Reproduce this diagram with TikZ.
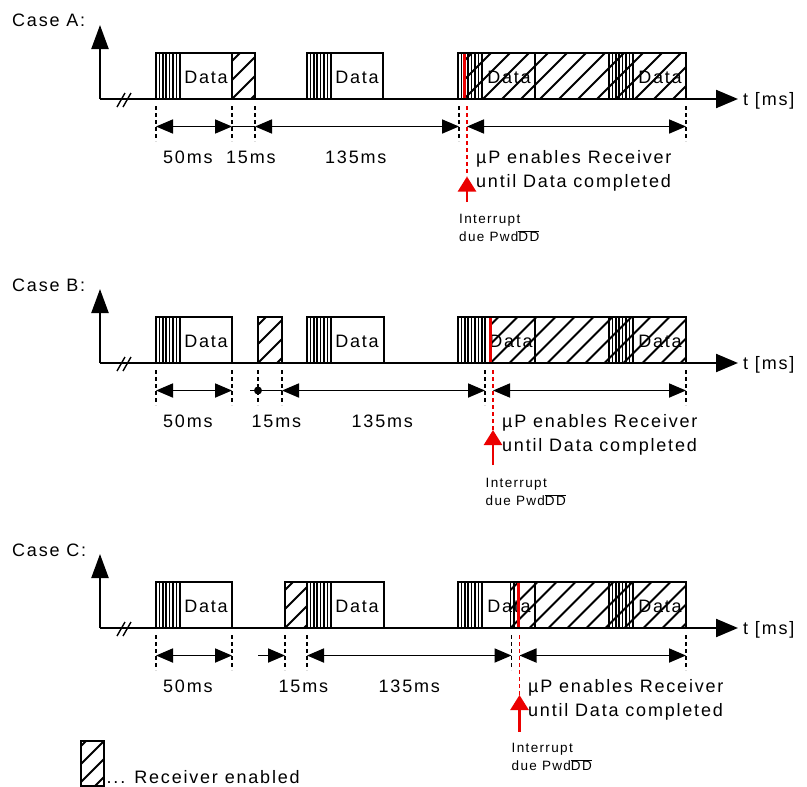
\documentclass[tikz,border=0pt]{standalone}
\usepackage{fontspec}
\setmainfont{Liberation Sans}[LetterSpace=10]
\usetikzlibrary{arrows.meta}
\definecolor{intred}{RGB}{235,0,0}
\tikzset{
  lbl/.style={inner sep=0pt, font=\fontsize{18}{20}\selectfont, anchor=base west},
  small/.style={inner sep=0pt, font=\fontsize{13.5}{16}\selectfont, anchor=base west},
  boxline/.style={line width=2pt},
  stripe/.style={line width=1.15pt},
  hatchline/.style={line width=1.9pt},
  axis/.style={line width=2.2pt},
  dimline/.style={line width=1.8pt},
  dimarrow/.style={dimline, {Triangle[length=17pt,width=14pt]}-{Triangle[length=17pt,width=14pt]}},
  guide/.style={line width=1.4pt, dash pattern=on 4pt off 3pt},
  redguide/.style={guide, intred},
  redbar/.style={line width=3pt, intred},
  redarrow/.style={line width=2.4pt, intred, -{Triangle[length=15pt,width=18pt]}},
}
% preamble stripes starting at x=#1
\newcommand\mystripes[1]{%
  \foreach \d in {0,3.5,7,10,13.5,17,20.5,24} \draw[stripe] ({#1+\d},53) -- ({#1+\d},99);}
% hatching between x=#1 and x=#2
\newcommand\myhatch[2]{%
  \begin{scope}
    \clip (#1,53) rectangle (#2,99);
    \foreach \c in {-57,-38,...,260} \draw[hatchline] ({#1+\c},99) -- ({#1+\c+46},53);
  \end{scope}}
% coordinate system axes and time label
\newcommand\myaxes[1]{%
  \node[lbl] (case#1) at (12,27) {Case #1:};
  \coordinate (o#1) at (100,99);
  \coordinate (ytip#1) at (100,25);
  \coordinate (xtip#1) at (738,99);
  \draw[axis, -{Triangle[length=24pt,width=17pt]}] (o#1) -- (ytip#1);
  \draw[axis, -{Triangle[length=22pt,width=18pt]}] (o#1) -- (xtip#1);
  \node[lbl] (t#1) at (743,105.5) {t [ms]};
  \draw[line width=1.4pt] (117,107) -- (125,93) (123,107) -- (131,93);}
\newcommand\myguide[1]{\draw[guide] (#1,106) -- (#1,141);}
\begin{document}
\begin{tikzpicture}[x=1pt,y=-1pt]
\useasboundingbox (0,0) rectangle (807,787);

% ================= CASE A =================
\begin{scope}
  \myaxes{A}
  % block 1
  \node[lbl, anchor=base] (dA1) at (206,83.5) {Data};
  \mystripes{156}
  \myhatch{232}{255}
  \draw[boxline] (156,53) rectangle (255,99);
  \draw[boxline] (232,53) -- (232,99);
  % block 2
  \node[lbl, anchor=base] (dA2) at (357,83.5) {Data};
  \mystripes{307}
  \draw[boxline] (307,53) rectangle (383,99);
  % block 3
  \node[lbl, anchor=base] (dA3) at (509,83.5) {Data};
  \node[lbl, anchor=base] (dA4) at (660,83.5) {Data};
  \mystripes{458}
  \mystripes{609}
  \myhatch{464}{686}
  \draw[boxline] (458,53) rectangle (686,99);
  \draw[boxline] (535,53) -- (535,99);
  \draw[redbar] (464,54) -- (464,98);
  % guides
  \myguide{156}\myguide{232}\myguide{255}\myguide{459}\myguide{686}
  \draw[redguide] (467,106) -- (467,176);
  % dimensions
  \coordinate (a1) at (156,126.5); \coordinate (a2) at (232,126.5);
  \coordinate (a3) at (255,126.5); \coordinate (a4) at (459,126.5);
  \coordinate (a5) at (467,126.5); \coordinate (a6) at (686,126.5);
  \draw[dimarrow] (a1) -- (a2);
  \draw[dimline] (a2) -- (a3);
  \draw[dimarrow] (a3) -- (a4);
  \draw[dimarrow] (a5) -- (a6);
  \node[lbl] (lA50) at (163,163) {50ms};
  \node[lbl] (lA15) at (226,163) {15ms};
  \node[lbl] (lA135) at (325,163) {135ms};
  \node[lbl] (muA) at (476,163.3) {µP enables Receiver};
  \node[lbl] (untA) at (476,187.3) {until Data completed};
  \coordinate (irA1) at (467,202); \coordinate (irA2) at (467,176.5);
  \draw[redarrow] (irA1) -- (irA2);
  \node[small] (intA) at (459,223.3) {Interrupt};
  \node[small] (dueA) at (459,241.7) {due Pwd$\overline{\mbox{DD}}$};
\end{scope}

% ================= CASE B =================
\begin{scope}[yshift=-264pt]
  \myaxes{B}
  \node[lbl, anchor=base] (dB1) at (206,83.5) {Data};
  \mystripes{156}
  \draw[boxline] (156,53) rectangle (232,99);
  \myhatch{258}{282}
  \draw[boxline] (258,53) rectangle (282,99);
  \node[lbl, anchor=base] (dB2) at (357,83.5) {Data};
  \mystripes{307}
  \draw[boxline] (307,53) rectangle (384,99);
  \node[lbl, anchor=base] (dB3) at (511,83.5) {Data};
  \node[lbl, anchor=base] (dB4) at (660,83.5) {Data};
  \mystripes{458}
  \draw[stripe] (481.5,53) -- (481.5,99);
  \draw[stripe] (485,53) -- (485,99);
  \mystripes{609}
  \myhatch{490.5}{686}
  \draw[boxline] (458,53) rectangle (686,99);
  \draw[boxline] (535,53) -- (535,99);
  \draw[redbar] (490.5,54) -- (490.5,98);
  \myguide{156}\myguide{232}\myguide{258}\myguide{282}\myguide{485}\myguide{686}
  \draw[redguide] (493,106) -- (493,166);
  \coordinate (b1) at (156,126.5); \coordinate (b2) at (232,126.5);
  \coordinate (b0) at (250,126.5); \coordinate (bd) at (258,126.5);
  \coordinate (b3) at (282,126.5); \coordinate (b4) at (485,126.5);
  \coordinate (b5) at (493,126.5); \coordinate (b6) at (686,126.5);
  \draw[dimarrow] (b1) -- (b2);
  \draw[dimline] (b0) -- (b3);
  \fill (bd) circle (4pt);
  \draw[dimarrow] (b3) -- (b4);
  \draw[dimarrow] (b5) -- (b6);
  \node[lbl] (lB50) at (163,163) {50ms};
  \node[lbl] (lB15) at (251.5,163) {15ms};
  \node[lbl] (lB135) at (351.5,163) {135ms};
  \node[lbl] (muB) at (502,163.3) {µP enables Receiver};
  \node[lbl] (untB) at (502,187.3) {until Data completed};
  \coordinate (irB1) at (493,201); \coordinate (irB2) at (493,166);
  \draw[redarrow] (irB1) -- (irB2);
  \node[small] (intB) at (485.5,223.3) {Interrupt};
  \node[small] (dueB) at (485.5,241.7) {due Pwd$\overline{\mbox{DD}}$};
\end{scope}

% ================= CASE C =================
\begin{scope}[yshift=-529pt]
  \myaxes{C}
  \node[lbl, anchor=base] (dC1) at (206,83.5) {Data};
  \mystripes{156}
  \draw[boxline] (156,53) rectangle (232,99);
  \myhatch{285}{307}
  \node[lbl, anchor=base] (dC2) at (357,83.5) {Data};
  \mystripes{307}
  \draw[boxline] (285,53) rectangle (384,99);
  \node[lbl, anchor=base] (dC3) at (509,83.5) {Data};
  \node[lbl, anchor=base] (dC4) at (660,83.5) {Data};
  \mystripes{458}
  \mystripes{609}
  \myhatch{510.5}{686}
  \draw[stripe] (510.5,53) -- (510.5,99);
  \draw[stripe] (514,53) -- (514,99);
  \draw[boxline] (458,53) rectangle (686,99);
  \draw[boxline] (535,53) -- (535,99);
  \draw[redbar] (518,54) -- (518,98);
  \myguide{156}\myguide{232}\myguide{285}\myguide{307}\myguide{511.5}\myguide{686}
  \draw[redguide] (519.5,106) -- (519.5,166);
  \coordinate (c1) at (156,126.5); \coordinate (c2) at (232,126.5);
  \coordinate (c0) at (258,126.5); \coordinate (c3) at (285,126.5);
  \coordinate (c4) at (307,126.5); \coordinate (c5) at (511.5,126.5);
  \coordinate (c6) at (519.5,126.5); \coordinate (c7) at (686,126.5);
  \draw[dimarrow] (c1) -- (c2);
  \draw[dimline, -{Triangle[length=17pt,width=14pt]}] (c0) -- (c3);
  \draw[dimarrow] (c4) -- (c5);
  \draw[dimarrow] (c6) -- (c7);
  \node[lbl] (lC50) at (163,163) {50ms};
  \node[lbl] (lC15) at (278.5,163) {15ms};
  \node[lbl] (lC135) at (378.5,163) {135ms};
  \node[lbl] (muC) at (528,163.3) {µP enables Receiver};
  \node[lbl] (untC) at (528,187.3) {until Data completed};
  \coordinate (irC1) at (519.5,202.5); \coordinate (irC2) at (519.5,166);
  \draw[redarrow] (irC1) -- (irC2);
  \node[small] (intC) at (511.5,223.3) {Interrupt};
  \node[small] (dueC) at (511.5,241.7) {due Pwd$\overline{\mbox{DD}}$};
\end{scope}

% ================= LEGEND =================
\begin{scope}
  \clip (81,741) rectangle (104,786);
  \foreach \c in {-40,-22,...,40} \draw[hatchline] ({81+\c},786) -- ({81+\c+45},741);
\end{scope}
\draw[boxline] (81,741) rectangle (104,786);
\node[lbl] (legend) at (106.5,783.5) {... Receiver enabled};
\end{tikzpicture}
\end{document}
